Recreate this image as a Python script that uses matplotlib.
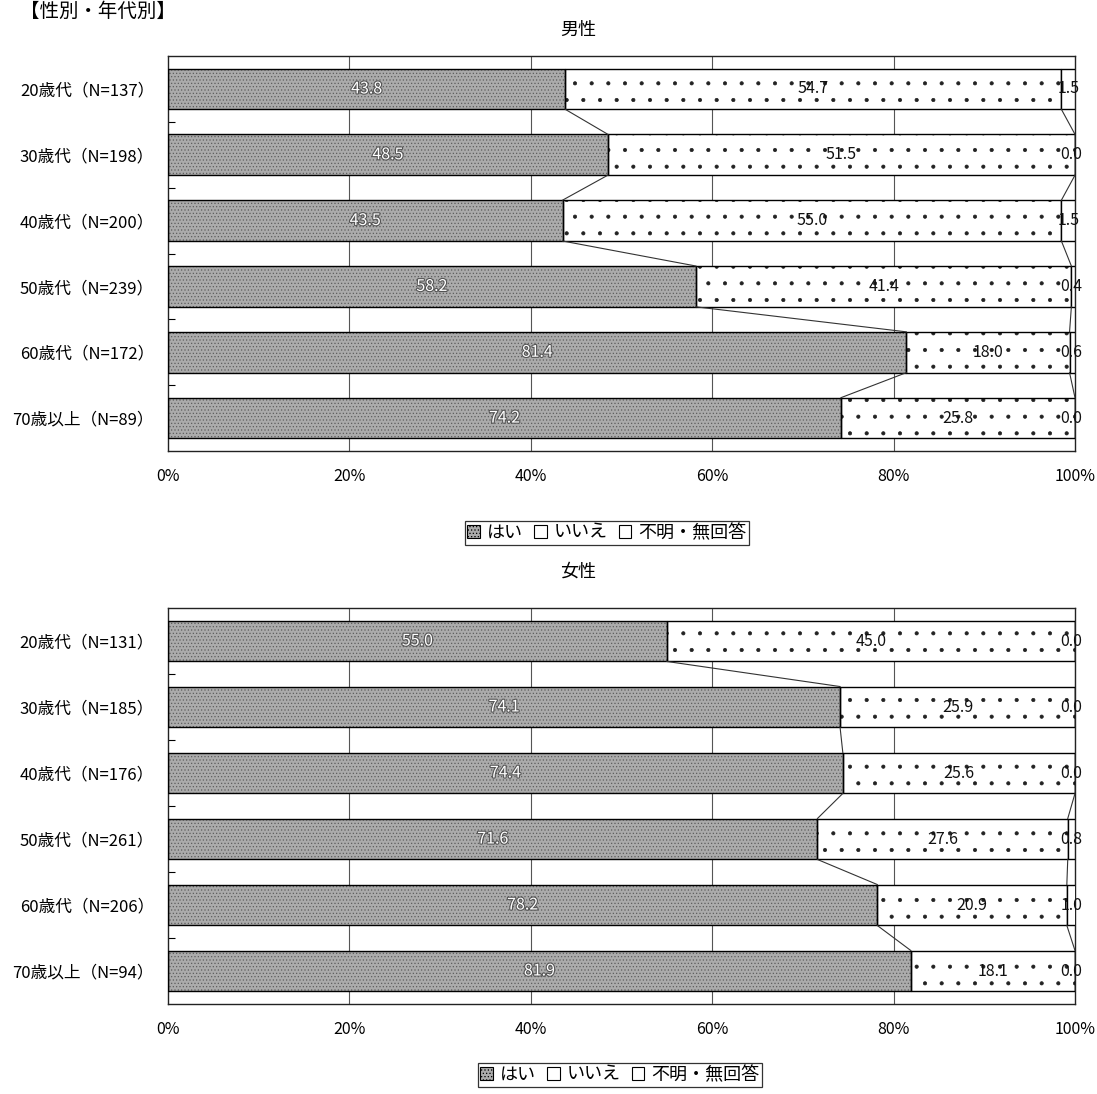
import numpy as np
import matplotlib.pyplot as plt
from matplotlib.patches import Patch
import matplotlib.patheffects as pe

plt.rcParams['font.family'] = ['Noto Sans CJK JP', 'DejaVu Sans']
plt.rcParams['hatch.linewidth'] = 0.5

# data
male_labels = ['20歳代（N=137）', '30歳代（N=198）', '40歳代（N=200）',
               '50歳代（N=239）', '60歳代（N=172）', '70歳以上（N=89）']
male_yes = [43.8, 48.5, 43.5, 58.2, 81.4, 74.2]
male_no = [54.7, 51.5, 55.0, 41.4, 18.0, 25.8]
male_na = [1.5, 0.0, 1.5, 0.4, 0.6, 0.0]

female_labels = ['20歳代（N=131）', '30歳代（N=185）', '40歳代（N=176）',
                 '50歳代（N=261）', '60歳代（N=206）', '70歳以上（N=94）']
female_yes = [55.0, 74.1, 74.4, 71.6, 78.2, 81.9]
female_no = [45.0, 25.9, 25.6, 27.6, 20.9, 18.1]
female_na = [0.0, 0.0, 0.0, 0.8, 1.0, 0.0]

series_names = ['はい', 'いいえ', '不明・無回答']
x_ticks = [0, 20, 40, 60, 80, 100]

BAR_H = 0.62
YES_FACE = '#ababab'
YES_HATCH = '#5e5e5e'


def draw_panel(ax, labels, yes, no, na):
    y = np.arange(len(labels))
    yes = np.array(yes)
    no = np.array(no)
    na = np.array(na)

    # grid only shows in gaps
    for xv in x_ticks[1:-1]:
        ax.axvline(xv, color='#555555', lw=0.8, zorder=0)

    # はい: grainy gray
    ax.barh(y, yes, height=BAR_H, color=YES_FACE, hatch='.....',
            edgecolor=YES_HATCH, lw=0, zorder=2)
    ax.barh(y, yes, height=BAR_H, fill=False, edgecolor='black', lw=1.0, zorder=3)
    # いいえ: dotted white
    ax.barh(y, no, left=yes, height=BAR_H, color='white', hatch='.',
            edgecolor='#222222', lw=0, zorder=2)
    ax.barh(y, no, left=yes, height=BAR_H, fill=False, edgecolor='black', lw=1.0, zorder=3)
    # 不明・無回答: white
    ax.barh(y, na, left=yes + no, height=BAR_H, color='white',
            edgecolor='black', lw=1.0, zorder=3)

    # series lines between bars
    cum1 = yes
    cum2 = yes + no
    for i in range(len(y) - 1):
        for c in (cum1, cum2):
            ax.plot([c[i], c[i + 1]], [y[i] + BAR_H / 2, y[i + 1] - BAR_H / 2],
                    color='#333333', lw=0.8, zorder=4)

    # value labels
    for i in range(len(y)):
        ax.text(yes[i] / 2, y[i], f'{yes[i]:.1f}', ha='center', va='center',
                fontsize=11.5, color='white', zorder=5,
                path_effects=[pe.withStroke(linewidth=1.6, foreground='#555555')])
        ax.text(yes[i] + no[i] / 2, y[i], f'{no[i]:.1f}', ha='center', va='center',
                fontsize=11.5, color='#111111', zorder=5)
        ax.text(min(yes[i] + no[i] + na[i] / 2, 99.6), y[i], f'{na[i]:.1f}',
                ha='center', va='center', fontsize=11.5, color='#111111', zorder=5)

    ax.set_xlim(0, 100)
    ax.set_ylim(len(y) - 0.5, -0.5)
    ax.set_xticks(x_ticks)
    ax.set_xticklabels([f'{v}%' for v in x_ticks], fontsize=11.5)
    ax.tick_params(axis='x', length=0, pad=12)
    ax.set_yticks(y)
    ax.set_yticklabels(labels, fontsize=12)
    ax.tick_params(axis='y', length=0, pad=10)
    ax.set_yticks(np.arange(len(y) - 1) + 0.5, minor=True)
    ax.tick_params(axis='y', which='minor', direction='in', length=5, width=0.8)
    for s in ax.spines.values():
        s.set_color('#222222')
        s.set_linewidth(1.0)


def add_legend(fig, xc, yc):
    handles = [
        Patch(facecolor=YES_FACE, edgecolor='black', hatch='.....', lw=0.8),
        Patch(facecolor='white', edgecolor='black', lw=0.8),
        Patch(facecolor='white', edgecolor='black', lw=0.8),
    ]
    leg = fig.legend(handles, series_names, loc='center', bbox_to_anchor=(xc, yc),
                     ncol=3, fontsize=13, frameon=True, fancybox=False,
                     edgecolor='black', handlelength=0.7, handleheight=0.7,
                     handletextpad=0.4, columnspacing=0.6, borderpad=0.15,
                     borderaxespad=0)
    leg.get_frame().set_linewidth(0.9)


fig = plt.figure(figsize=(10.97, 10.94), dpi=100)
W, H = 1097, 1094

ax1 = fig.add_axes([168 / W, 1 - 451 / H, 907 / W, 395 / H])
draw_panel(ax1, male_labels, male_yes, male_no, male_na)
ax2 = fig.add_axes([168 / W, 1 - 1004 / H, 907 / W, 396 / H])
draw_panel(ax2, female_labels, female_yes, female_no, female_na)

fig.text(20 / W, 1 - 1 / H, '【性別・年代別】', fontsize=14, ha='left', va='top')
fig.text(578 / W, 1 - 30 / H, '男性', fontsize=13, ha='center', va='center')
fig.text(578 / W, 1 - 572 / H, '女性', fontsize=13, ha='center', va='center')

add_legend(fig, 607 / W, 1 - 533 / H)
add_legend(fig, 620 / W, 1 - 1075 / H)

fig.savefig('out.png', dpi=100)
